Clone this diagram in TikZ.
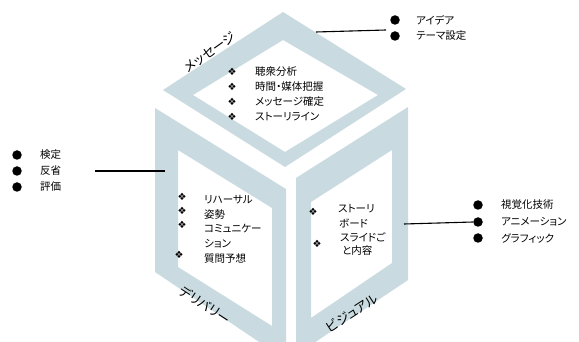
\documentclass[tikz,border=0pt]{standalone}
\usepackage{fontspec}
\setmainfont{Noto Sans CJK JP}[RawFeature=+palt]
\newfontfamily\dingfont{DejaVu Sans}
\definecolor{facefill}{RGB}{201,219,224}

\begin{document}
\begin{tikzpicture}[x=1pt,y=-1pt,
  face/.style={fill=facefill, even odd rule},
  item/.style={anchor=west, inner sep=0pt, font=\fontsize{10.5}{12}\selectfont},
  dia/.style={inner sep=0pt, font=\dingfont\fontsize{10}{10}\selectfont},
  dot/.style={circle, fill=black, inner sep=0pt, minimum size=9.5pt},
  facelabel/.style={inner sep=0pt, font=\fontsize{13}{13}\selectfont},
  lead/.style={line width=1.1pt}]

% canvas
\fill[white] (0,0) rectangle (579,342);
\useasboundingbox (0,0) rectangle (579,342);

% the three faces of the cube, each a frame around a white panel
\begin{scope}
  \clip (0,0) rectangle (579,342);
  % top face
  \fill[face] (283,12) -- (406,89) -- (285,167) -- (163,90) -- cycle
              (283,40) -- (378,95) -- (285,152) -- (193,95) -- cycle;
  % left face
  \fill[face] (155,108) -- (286,189) -- (286,360) -- (155,272) -- cycle
              (178,150) -- (272,208) -- (272,326) -- (178,267) -- cycle;
  % right face
  \fill[face] (296,178) -- (408,107) -- (408,280) -- (296,355) -- cycle
              (311,202) -- (392,150) -- (392,263) -- (311,318) -- cycle;
\end{scope}

% face titles
\node[facelabel, rotate=35]  (tMsg) at (210,52)  {メッセージ};
\node[facelabel, rotate=-33] (tDel) at (205,305) {デリバリー};
\node[facelabel, rotate=33]  (tVis) at (352,313) {ビジュアル};

% top face items
\node[dia] (mA) at (232,72)  {❖};
\node[dia] (mB) at (232,87)  {❖};
\node[dia] (mC) at (232,102) {❖};
\node[dia] (mD) at (232,117) {❖};
\node[item] (mA1) at (255,72)  {聴衆分析};
\node[item] (mB1) at (255,87)  {時間・媒体把握};
\node[item] (mC1) at (255,102) {メッセージ確定};
\node[item] (mD1) at (255,117) {ストーリライン};

% left face items
\node[dia] (dA) at (182,197) {❖};
\node[dia] (dB) at (182,211) {❖};
\node[dia] (dC) at (182,225) {❖};
\node[dia] (dD) at (179,255) {❖};
\node[item] (dA1) at (204,200) {リハーサル};
\node[item] (dB1) at (204,215) {姿勢};
\node[item] (dC1) at (204,229) {コミュニケー};
\node[item] (dC2) at (204,244) {ション};
\node[item] (dD1) at (204,259) {質問予想};

% right face items
\node[dia] (vA) at (313,212) {❖};
\node[dia] (vB) at (317,244) {❖};
\node[item] (vA1) at (338,209) {ストーリ};
\node[item] (vA2) at (339,223) {ボード};
\node[item] (vB1) at (340,237) {スライドご};
\node[item] (vB2) at (342,251) {と内容};

% callout: message
\node[dot] (pA) at (395,20) {};
\node[dot] (pB) at (395,36) {};
\node[item] (pA1) at (416,20) {アイデア};
\node[item] (pB1) at (416,36) {テーマ設定};
\coordinate (pFrom) at (316,32);
\coordinate (pTo) at (386,30);
\draw[lead] (pFrom) -- (pTo);

% callout: delivery
\node[dot] (qA) at (17,155) {};
\node[dot] (qB) at (17,171) {};
\node[dot] (qC) at (17,187) {};
\node[item] (qA1) at (40,155) {検定};
\node[item] (qB1) at (40,171) {反省};
\node[item] (qC1) at (40,187) {評価};
\coordinate (qFrom) at (165,171);
\coordinate (qTo) at (95,171);
\draw[lead] (qFrom) -- (qTo);

% callout: visual
\node[dot] (rA) at (478,205) {};
\node[dot] (rB) at (478,222) {};
\node[dot] (rC) at (478,238) {};
\node[item] (rA1) at (501,205) {視覚化技術};
\node[item] (rB1) at (501,222) {アニメーション};
\node[item] (rC1) at (501,238) {グラフィック};
\coordinate (rFrom) at (404,224);
\draw[lead] (rFrom) -- (rB.west);
\end{tikzpicture}
\end{document}
